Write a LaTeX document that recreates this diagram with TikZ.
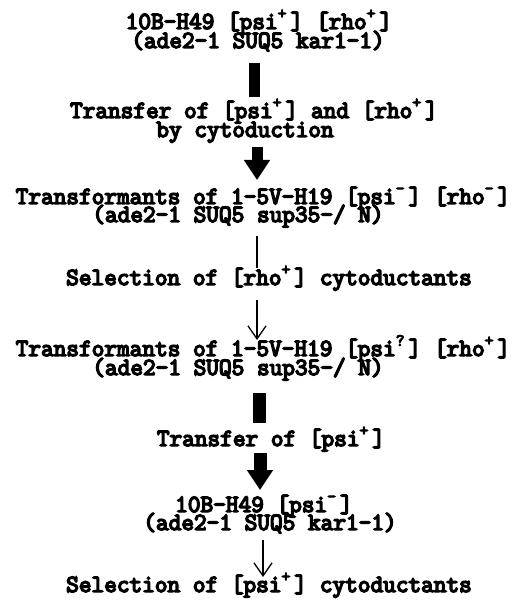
\documentclass[tikz,border=0pt]{standalone}
\usepackage{fontspec}
\newfontfamily\cour{Latin Modern Mono}[FakeBold=6]
\usetikzlibrary{arrows.meta}
\newcommand\supx[1]{\makebox[0.525em][l]{\raisebox{0.42em}{\fontsize{17}{17}\selectfont #1}}}
\begin{document}
\begin{tikzpicture}[x=1pt,y=-1pt,
  txt/.style={anchor=base,inner sep=0pt,font=\cour\fontsize{24.6}{24.6}\selectfont},
  barline/.style={line width=11pt},
  fatarrow/.style={line width=11pt,-{Triangle[width=25pt,length=20pt]}},
  thinarrow/.style={line width=1.3pt,-{Straight Barb[length=13pt,width=18pt]}},
  thinline/.style={line width=1.3pt}]
\useasboundingbox (0,0) rectangle (517,601);
\node[txt] (l1) at (259,29) {10B-H49 [psi\supx{+}] [rho\supx{+}]};
\node[txt] (l2) at (258,48) {(ade2-1 SUQ5 kar1-1)};
\node[txt] (l3) at (254,118) {Transfer of [psi\supx{+}] and [rho\supx{+}]};
\node[txt] (l4) at (245,137) {by cytoduction};
\node[txt] (l5) at (263,204) {Transformants of 1-5V-H19 [psi\supx{-}] [rho\supx{-}]};
\node[txt] (l6) at (238,222) {(ade2-1 SUQ5 sup35-/ N)};
\node[txt] (l7) at (269,285) {Selection of [rho\supx{+}] cytoductants};
\node[txt] (l8) at (263,356) {Transformants of 1-5V-H19 [psi\supx{?}] [rho\supx{+}]};
\node[txt] (l9) at (238,375) {(ade2-1 SUQ5 sup35-/ N)};
\node[txt] (l10) at (271,446) {Transfer of [psi\supx{+}]};
\node[txt] (l11) at (264,512) {10B-H49 [psi\supx{-}]};
\node[txt] (l12) at (270,530) {(ade2-1 SUQ5 kar1-1)};
\node[txt] (l13) at (269,592) {Selection of [psi\supx{+}] cytoductants};
\coordinate (b1a) at (254.5,63);  \coordinate (b1b) at (254.5,97);
\coordinate (a1a) at (257,147);   \coordinate (a1b) at (257,180);
\coordinate (t1a) at (257,236);   \coordinate (t1b) at (257,268);
\coordinate (a2a) at (257,300);   \coordinate (a2b) at (257,340);
\coordinate (b2a) at (259.5,393); \coordinate (b2b) at (259.5,423);
\coordinate (a3a) at (260,453);   \coordinate (a3b) at (260,490);
\coordinate (a4a) at (263,540);   \coordinate (a4b) at (263,577);
\draw[barline] (b1a) -- (b1b);
\draw[fatarrow] (a1a) -- (a1b);
\draw[thinline] (t1a) -- (t1b);
\draw[thinarrow] (a2a) -- (a2b);
\draw[barline,line width=13pt] (b2a) -- (b2b);
\draw[fatarrow,line width=13pt] (a3a) -- (a3b);
\draw[thinarrow] (a4a) -- (a4b);
\end{tikzpicture}
\end{document}
